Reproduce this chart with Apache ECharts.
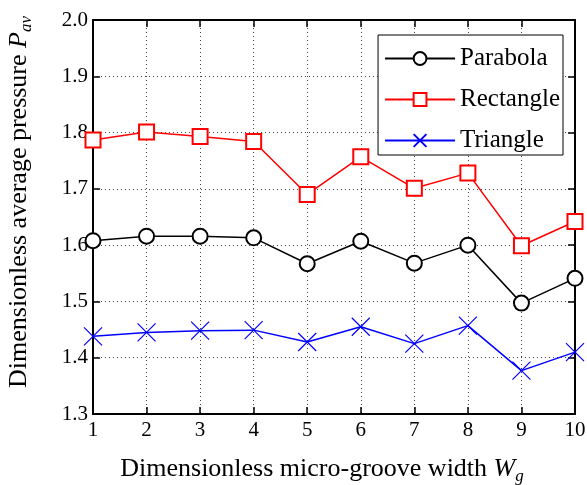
<!DOCTYPE html>
<html>
<head>
<meta charset="utf-8">
<script src="https://cdn.jsdelivr.net/npm/echarts@6/dist/echarts.min.js"></script>
<style>
  html, body { margin: 0; padding: 0; background: #fff; }
  #chart { width: 587px; height: 485px; }
</style>
</head>
<body>
<div id="chart"></div>
<script>
const categories = [1, 2, 3, 4, 5, 6, 7, 8, 9, 10]
const parabola = [1.608, 1.616, 1.616, 1.613, 1.567, 1.607, 1.568, 1.600, 1.497, 1.541]
const rectangle = [1.787, 1.801, 1.793, 1.784, 1.690, 1.757, 1.701, 1.728, 1.599, 1.642]
const triangle = [1.438, 1.445, 1.448, 1.449, 1.428, 1.455, 1.425, 1.457, 1.377, 1.410]
const yTicks = ['1.3', '1.4', '1.5', '1.6', '1.7', '1.8', '1.9', '2.0']

const font = '"Liberation Serif", "DejaVu Serif", serif'
const crossPath = 'path://M0,0L10,10M10,0L0,10'

const chart = echarts.init(document.getElementById('chart'))

const baseAxis = {
  axisLine: { lineStyle: { color: '#000', width: 2 } },
  axisTick: { inside: true, length: 7, lineStyle: { color: '#000', width: 1.5 } }
}

// rich text styles for titles with italic symbol + subscript
const titleRich = {
  t: { fontFamily: font, fontSize: 26, color: '#000' },
  i: { fontFamily: font, fontSize: 26, fontStyle: 'italic', color: '#000' },
  s: { fontFamily: font, fontSize: 17, fontStyle: 'italic', color: '#000', padding: [14, 0, 0, 0] }
}

chart.setOption({
  backgroundColor: '#fff',
  animation: false,
  grid: { left: 93, right: 12, top: 20, bottom: 71, outerBoundsMode: 'none' },
  legend: {
    right: 24,
    top: 35,
    orient: 'vertical',
    backgroundColor: '#fff',
    borderColor: '#000',
    borderWidth: 1,
    borderRadius: 0,
    padding: [11, 3, 2, 6],
    itemGap: 16,
    itemWidth: 70,
    itemHeight: 16,
    textStyle: { fontFamily: font, fontSize: 25, color: '#000' },
    data: ['Parabola', 'Rectangle', 'Triangle']
  },
  xAxis: [
    {
      ...baseAxis,
      type: 'value',
      min: 1,
      max: 10,
      interval: 1,
      axisLabel: { fontFamily: font, fontSize: 21, color: '#000', margin: 6 },
      splitLine: { show: true, lineStyle: { color: '#444', type: [1, 3], width: 1 } },
      name: '{t|Dimensionless micro-groove width }{i|W}{s|g}',
      nameLocation: 'middle',
      nameGap: 40,
      nameTextStyle: { padding: [0, 24, 0, 0], rich: titleRich }
    },
    {
      ...baseAxis,
      type: 'value',
      position: 'top',
      min: 1,
      max: 10,
      interval: 1,
      axisLabel: { show: false },
      splitLine: { show: false }
    }
  ],
  yAxis: [
    {
      ...baseAxis,
      type: 'value',
      min: 1.3,
      max: 2.0,
      interval: 0.1,
      axisLabel: {
        fontFamily: font, fontSize: 21, color: '#000', margin: 5,
        formatter: (v) => yTicks[Math.round((v - 1.3) * 10)]
      },
      splitLine: { show: true, lineStyle: { color: '#444', type: [1, 3], width: 1 } },
      name: '{t|Dimensionless average pressure }{i|P}{s|av}',
      nameLocation: 'middle',
      nameGap: 58,
      nameTextStyle: { padding: [0, 0, 0, 30], rich: titleRich }
    },
    {
      ...baseAxis,
      type: 'value',
      position: 'right',
      min: 1.3,
      max: 2.0,
      interval: 0.1,
      axisLabel: { show: false },
      splitLine: { show: false }
    }
  ],
  series: [
    {
      name: 'Parabola',
      type: 'line',
      data: categories.map((c, i) => [c, parabola[i]]),
      symbol: 'emptyCircle',
      symbolSize: 15,
      lineStyle: { color: '#000', width: 1.5 },
      itemStyle: { color: '#000', borderColor: '#000', borderWidth: 1.2 },
      z: 3
    },
    {
      name: 'Rectangle',
      type: 'line',
      data: categories.map((c, i) => [c, rectangle[i]]),
      symbol: 'emptyRect',
      symbolSize: 15,
      lineStyle: { color: '#ff0000', width: 1.5 },
      itemStyle: { color: '#ff0000', borderColor: '#ff0000', borderWidth: 1.2 },
      z: 3
    },
    {
      name: 'Triangle',
      type: 'line',
      data: categories.map((c, i) => [c, triangle[i]]),
      symbol: crossPath,
      symbolSize: 18,
      lineStyle: { color: '#0000ff', width: 1.5 },
      itemStyle: { color: '#0000ff', borderColor: '#0000ff', borderWidth: 1.2 },
      z: 3
    }
  ]
})
</script>
</body>
</html>
